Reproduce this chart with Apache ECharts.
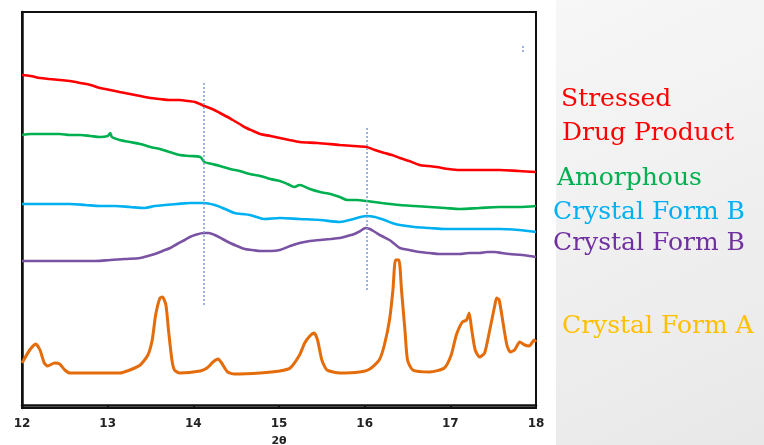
<!DOCTYPE html>
<html><head><meta charset="utf-8">
<script src="https://cdn.jsdelivr.net/npm/echarts@6/dist/echarts.min.js"></script>
<style>html,body{margin:0;padding:0;background:#fff}#c{width:764px;height:445px}</style>
</head><body><div id="c"></div>
<script>
// 2θ tick values
const xTicks = [12, 13, 14, 15, 16, 17, 18];
// series names (labels on the right)
const seriesNames = ['Stressed Drug Product', 'Amorphous', 'Crystal Form B', 'Crystal Form B', 'Crystal Form A'];
// offset intensity (arbitrary units, stacked traces)
const stressed = [[12.00,330],[12.10,329],[12.21,327],[12.32,326],[12.44,325],[12.56,324],[12.68,322],[12.80,320],[12.91,317],[13.03,315],[13.14,313],[13.26,311],[13.38,309],[13.50,307],[13.61,306],[13.72,305],[13.84,305],[13.94,304],[14.02,303],[14.13,299],[14.22,296],[14.31,292],[14.40,288],[14.46,285],[14.54,281],[14.62,277],[14.70,274],[14.78,271],[14.90,269],[15.01,267],[15.12,265],[15.24,263],[15.45,262],[15.71,260],[15.87,259],[16.02,258],[16.12,255],[16.23,252],[16.32,250],[16.41,247],[16.52,244],[16.64,240],[16.74,239],[16.84,238],[16.98,236],[17.11,235],[17.34,235],[17.57,235],[17.80,234],[18.00,233]];
const amorphous = [[12.00,270],[12.10,271],[12.21,271],[12.32,271],[12.44,271],[12.56,270],[12.68,270],[12.80,269],[12.91,268],[13.00,269],[13.03,272],[13.05,268],[13.14,265],[13.26,263],[13.38,261],[13.50,258],[13.61,256],[13.72,253],[13.84,250],[13.96,249],[14.08,248],[14.13,243],[14.22,241],[14.31,239],[14.43,236],[14.54,234],[14.66,231],[14.78,229],[14.90,226],[15.01,224],[15.10,221],[15.18,218],[15.24,220],[15.36,216],[15.48,213],[15.60,211],[15.71,208],[15.80,205],[15.91,205],[16.02,204],[16.20,202],[16.41,200],[16.58,199],[16.76,198],[16.94,197],[17.11,196],[17.34,197],[17.57,198],[17.80,198],[18.00,199]];
const formB1 = [[12.00,201],[12.21,201],[12.38,201],[12.56,201],[12.74,200],[12.91,199],[13.09,199],[13.26,198],[13.43,197],[13.55,199],[13.67,200],[13.81,201],[13.96,202],[14.12,202],[14.25,200],[14.37,196],[14.48,192],[14.57,191],[14.66,190],[14.74,188],[14.83,186],[15.01,187],[15.24,186],[15.48,185],[15.71,183],[15.87,186],[16.02,189],[16.12,188],[16.23,185],[16.32,182],[16.41,180],[16.58,178],[16.76,177],[16.94,176],[17.11,176],[17.34,176],[17.57,176],[17.80,175],[18.00,173]];
const formB2 = [[12.00,144],[12.16,144],[12.33,144],[12.50,144],[12.68,144],[12.86,144],[13.03,145],[13.20,146],[13.38,147],[13.47,149],[13.55,151],[13.64,154],[13.73,157],[13.81,161],[13.90,165],[13.96,168],[14.02,170],[14.12,172],[14.18,172],[14.25,170],[14.34,166],[14.43,162],[14.51,159],[14.60,156],[14.69,155],[14.78,154],[14.90,154],[15.01,155],[15.13,159],[15.24,162],[15.36,164],[15.48,165],[15.60,166],[15.71,167],[15.80,169],[15.88,171],[15.95,174],[16.01,177],[16.06,176],[16.12,173],[16.20,169],[16.29,165],[16.35,161],[16.41,157],[16.52,155],[16.64,153],[16.76,152],[16.87,151],[17.00,151],[17.11,151],[17.22,152],[17.34,152],[17.43,153],[17.52,153],[17.60,152],[17.69,151],[17.84,150],[18.00,148]];
const formA = [[12.00,42],[12.09,55],[12.16,61],[12.21,55],[12.26,42],[12.30,39],[12.38,42],[12.44,41],[12.50,35],[12.56,32],[12.91,32],[13.14,32],[13.26,35],[13.38,40],[13.47,50],[13.52,65],[13.56,90],[13.61,107],[13.64,108],[13.68,100],[13.71,75],[13.75,45],[13.78,35],[13.84,32],[14.08,34],[14.16,37],[14.23,43],[14.29,46],[14.33,42],[14.40,33],[14.48,31],[14.78,32],[15.01,34],[15.13,37],[15.24,50],[15.30,62],[15.36,69],[15.41,72],[15.45,65],[15.50,45],[15.56,35],[15.71,32],[15.94,33],[16.06,36],[16.17,45],[16.23,60],[16.29,85],[16.33,115],[16.36,145],[16.40,145],[16.43,115],[16.47,75],[16.50,45],[16.56,35],[16.76,33],[16.93,37],[17.01,50],[17.07,70],[17.14,83],[17.19,85],[17.22,92],[17.25,75],[17.29,55],[17.34,48],[17.40,52],[17.46,75],[17.52,100],[17.54,107],[17.57,105],[17.61,85],[17.66,60],[17.70,53],[17.75,55],[17.81,63],[17.87,60],[17.92,59],[17.98,65],[18.00,63]];
// dotted reference lines: [2θ, from, to]
const refLines = [[14.12, 100, 323], [16.02, 115, 278], [17.85, 353, 361]];

const lineColors = ['#FF0000', '#00B050', '#00B0F0', '#7A52A3', '#E46C0A'];
const textColors = ['#FF0000', '#00B050', '#00B0F0', '#7030A0', '#FFC000'];
const allData = [stressed, amorphous, formB1, formB2, formA];

const chart = echarts.init(document.getElementById('c'), null, {renderer: 'canvas'});
const series = allData.map((d, i) => ({
  name: seriesNames[i] + (i === 3 ? ' ' : ''),
  type: 'line',
  data: d,
  symbol: 'none',
  smooth: i === 4 ? 0.2 : 0.3,
  lineStyle: {color: lineColors[i], width: i === 4 ? 3 : 2.6},
  z: 3
}));
series[0].markLine = {
  silent: true, symbol: 'none', label: {show: false},
  lineStyle: {color: '#7F9BCB', type: [2, 2], width: 1.5},
  data: refLines.map(r => [{coord: [r[0], r[1]]}, {coord: [r[0], r[2]]}])
};

const font = '"DejaVu Serif", serif';
const labels = [
  {t: 'Stressed', x: 561, y: 112, c: 0},
  {t: 'Drug Product', x: 562, y: 146, c: 0},
  {t: 'Amorphous', x: 557, y: 191, c: 1},
  {t: 'Crystal Form B', x: 553, y: 225, c: 2},
  {t: 'Crystal Form B', x: 553, y: 256, c: 3},
  {t: 'Crystal Form A', x: 562, y: 339, c: 4}
];

chart.setOption({
  animation: false,
  backgroundColor: '#fff',
  grid: {left: 22, right: 228, top: 12, bottom: 37, outerBoundsMode: 'none', show: true, borderColor: '#111', borderWidth: 2, backgroundColor: 'transparent'},
  xAxis: {
    type: 'value', min: 12, max: 18, interval: 1,
    name: '2θ', nameLocation: 'middle', nameGap: 28,
    nameTextStyle: {fontFamily: 'DejaVu Sans', fontWeight: 'bold', fontSize: 11, color: '#222'},
    axisLine: {show: true, lineStyle: {color: '#111', width: 2.5}},
    axisTick: {show: true, length: 4, lineStyle: {color: '#111', width: 2}},
    axisLabel: {fontFamily: 'DejaVu Sans', fontWeight: 'bold', fontSize: 12, color: '#222', margin: 10},
    splitLine: {show: false}
  },
  yAxis: {
    type: 'value', min: -3, max: 393,
    axisLine: {show: true, lineStyle: {color: '#111', width: 2.5}},
    axisTick: {show: false}, axisLabel: {show: false}, splitLine: {show: false}
  },
  graphic: [
    {type: 'rect', left: 556, top: 0, z: -10, shape: {width: 208, height: 445},
     style: {fill: new echarts.graphic.LinearGradient(0, 0, 1, 1, [{offset: 0, color: '#F7F7F7'}, {offset: 1, color: '#E8E8E8'}])}}
  ].concat(labels.map(l => ({
    type: 'text', z: 10,
    style: {text: l.t, x: l.x, y: l.y, font: '25px ' + font, fill: textColors[l.c], verticalAlign: 'bottom', align: 'left'}
  }))),
  series: series
});
</script></body></html>
